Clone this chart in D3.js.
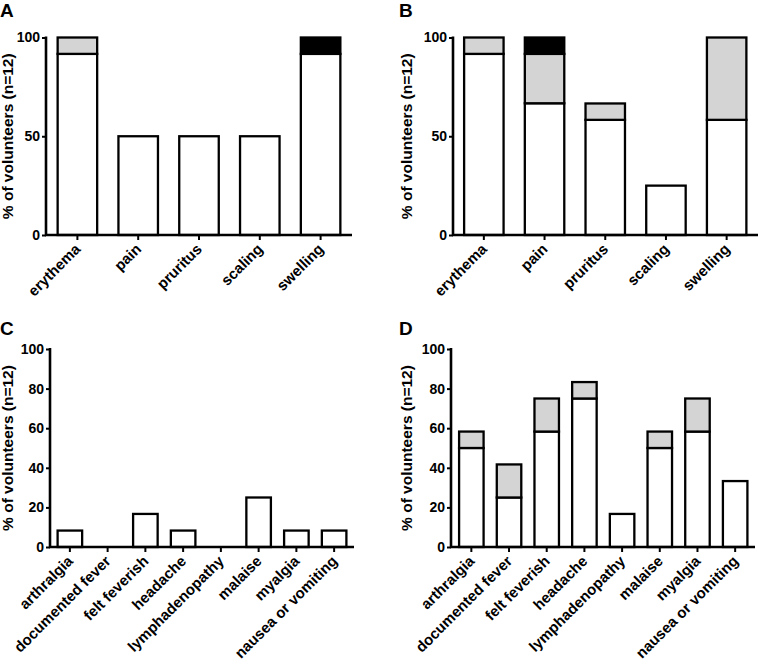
<!DOCTYPE html>
<html><head><meta charset="utf-8">
<script src="https://cdn.jsdelivr.net/npm/d3@7/dist/d3.min.js"></script>
<style>
body{margin:0;background:#fff;}
svg{display:block;font-family:"Liberation Sans",Arial,sans-serif;font-weight:bold;}
</style></head>
<body>
<svg id="chart" width="758" height="668"></svg>
<script>
// ---- data ----
const localCategories = ["erythema","pain","pruritus","scaling","swelling"];
const systemicCategories = ["arthralgia","documented fever","felt feverish","headache","lymphadenopathy","malaise","myalgia","nausea or vomiting"];

const aMild     = [91.7, 50, 50, 50, 91.7];
const aModerate = [8.3, 0, 0, 0, 0];
const aSevere   = [0, 0, 0, 0, 8.3];

const bMild     = [91.7, 66.7, 58.3, 25, 58.3];
const bModerate = [8.3, 25, 8.3, 0, 41.7];
const bSevere   = [0, 8.3, 0, 0, 0];

const cMild     = [8.3, 0, 16.7, 8.3, 0, 25, 8.3, 8.3];
const cModerate = [0, 0, 0, 0, 0, 0, 0, 0];
const cSevere   = [0, 0, 0, 0, 0, 0, 0, 0];

const dMild     = [50, 25, 58.3, 75, 16.7, 50, 58.3, 33.3];
const dModerate = [8.3, 16.7, 16.7, 8.3, 0, 8.3, 16.7, 0];
const dSevere   = [0, 0, 0, 0, 0, 0, 0, 0];

const topTicks = [0, 50, 100];
const bottomTicks = [0, 20, 40, 60, 80, 100];
const severityColors = ["#ffffff", "#d4d4d4", "#000000"];
const yTitle = "% of volunteers (n=12)";

const svg = d3.select("#chart");

function panel(opt){
  const g = svg.append("g");
  const x = d3.scaleBand().domain(opt.cats).range([opt.x0, opt.x1]).paddingInner(0.35).paddingOuter(0.175);
  const y = d3.scaleLinear().domain([0,100]).range([opt.yBottom, opt.yTop]);
  const rows = opt.cats.map((c,i)=>({cat:c, vals:[opt.mild[i], opt.moderate[i], opt.severe[i]]}));
  rows.forEach(r=>{
    let acc = 0;
    r.vals.forEach((v,k)=>{
      if(v>0){
        g.append("rect")
          .attr("x", x(r.cat)).attr("width", x.bandwidth())
          .attr("y", y(acc+v)).attr("height", y(acc)-y(acc+v))
          .attr("fill", severityColors[k]).attr("stroke","#000").attr("stroke-width",2.3);
      }
      acc += v;
    });
  });
  // y axis
  const ya = g.append("g").attr("transform",`translate(${opt.axisX},0)`)
    .call(d3.axisLeft(y).tickValues(opt.ticks).tickSize(4).tickSizeOuter(0).tickPadding(2));
  ya.select(".domain").attr("stroke-width",2.6).attr("d",`M0,${opt.yTop-1}V${opt.yBottom}`);
  ya.selectAll(".tick line").attr("stroke-width",2);
  ya.selectAll("text").attr("font-size",14).attr("font-weight","bold").attr("font-family","Liberation Sans, Arial, sans-serif").attr("fill","#000");
  // x axis
  const xa = g.append("g").attr("transform",`translate(0,${opt.yBottom})`)
    .call(d3.axisBottom(x).tickSize(5).tickSizeOuter(0));
  xa.select(".domain").attr("stroke-width",2.6).attr("d",`M${opt.axisX-1},0H${opt.x1+1}`);
  xa.selectAll(".tick line").attr("stroke-width",2);
  xa.selectAll("text")
    .attr("font-size",opt.catSize).attr("font-weight","bold").attr("font-family","Liberation Sans, Arial, sans-serif").attr("fill","#000")
    .attr("text-anchor","end").attr("dy",null).attr("y",null)
    .attr("transform","translate(4,15) rotate(-45)");
  // y title
  g.append("text").attr("transform",`translate(${opt.titleX},${(opt.yTop+opt.yBottom)/2}) rotate(-90)`)
    .attr("text-anchor","middle").attr("font-size",15.5).attr("dy","0.35em").text(yTitle);
  // panel letter
  g.append("text").attr("x",opt.letterX).attr("y",opt.letterY).attr("font-size",19).text(opt.letter);
}

panel({letter:"A", letterX:0, letterY:17, cats:localCategories, mild:aMild, moderate:aModerate, severe:aSevere,
  ticks:topTicks, axisX:46, x0:47, x1:351, yTop:37.5, yBottom:235, titleX:8, catSize:15});
panel({letter:"B", letterX:399, letterY:17, cats:localCategories, mild:bMild, moderate:bModerate, severe:bSevere,
  ticks:topTicks, axisX:453, x0:453.5, x1:757, yTop:37.5, yBottom:235, titleX:407, catSize:15});
panel({letter:"C", letterX:0, letterY:335, cats:systemicCategories, mild:cMild, moderate:cModerate, severe:cSevere,
  ticks:bottomTicks, axisX:50, x0:51, x1:353, yTop:349, yBottom:547, titleX:8, catSize:15});
panel({letter:"D", letterX:399, letterY:335, cats:systemicCategories, mild:dMild, moderate:dModerate, severe:dSevere,
  ticks:bottomTicks, axisX:451, x0:452.5, x1:754, yTop:349, yBottom:547, titleX:407, catSize:15});
</script>
</body></html>
